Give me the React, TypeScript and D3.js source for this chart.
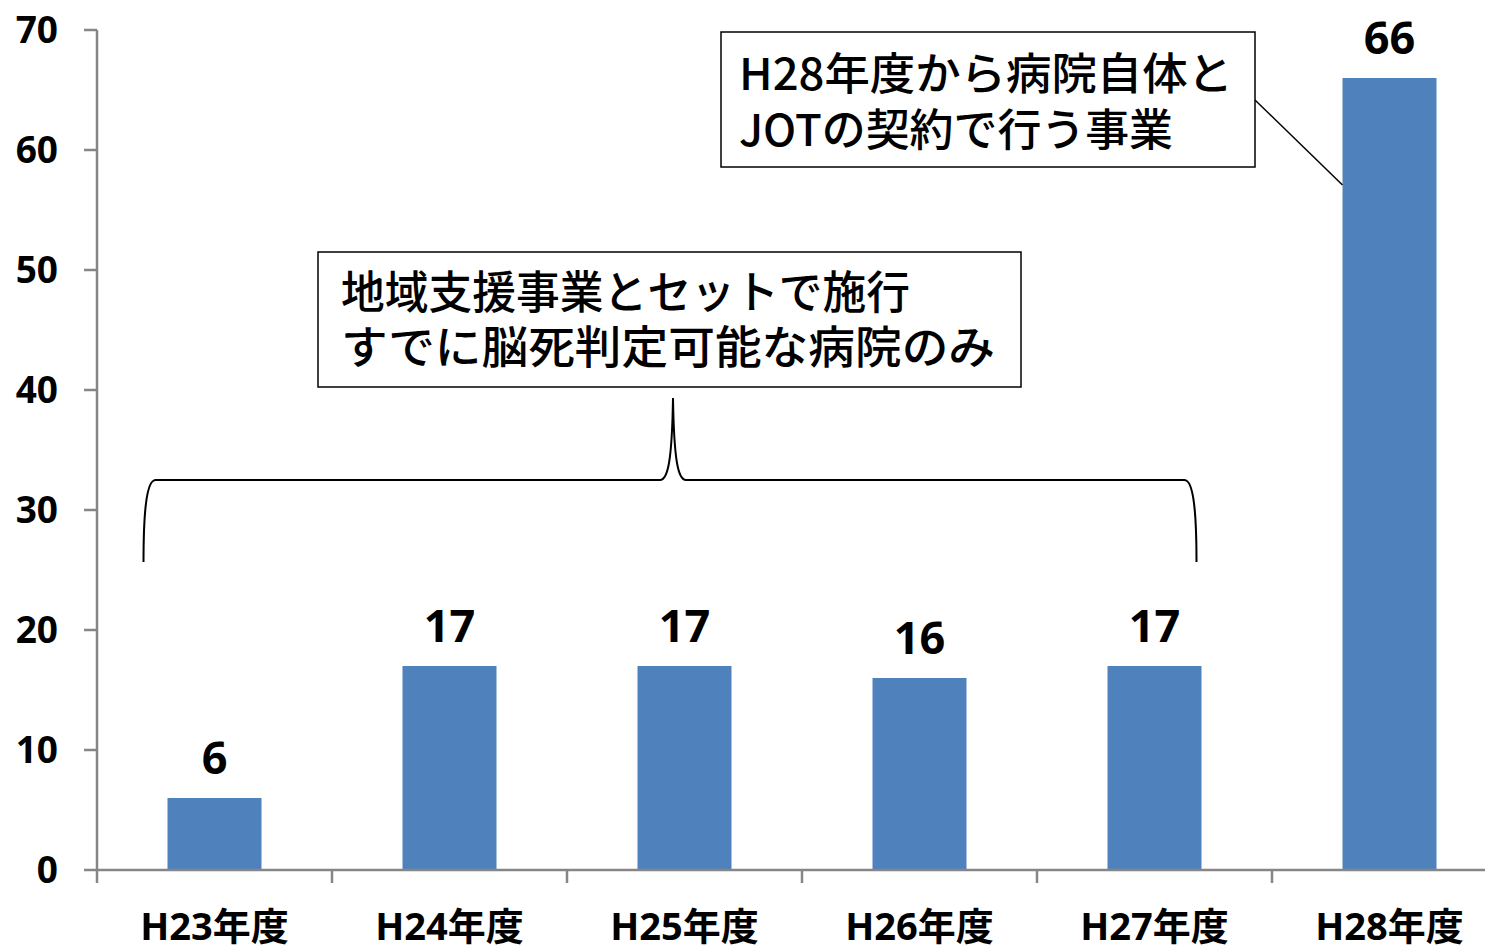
import React from 'react';
import * as d3 from 'd3';

const categories = ['H23年度', 'H24年度', 'H25年度', 'H26年度', 'H27年度', 'H28年度'];
const values = [6, 17, 17, 16, 17, 66];
const yTicks = [0, 10, 20, 30, 40, 50, 60, 70];
const noteA = ['H28年度から病院自体と', 'JOTの契約で行う事業'];
const noteAWidths = [494, 434];
const noteB = ['地域支援事業とセットで施行', 'すでに脳死判定可能な病院のみ'];
const noteBWidths = [569, 654];

const W = 1485;
const H = 946;
const left = 97;
const top = 30;
const bottom = 870;
const axisColor = '#868686';
const barColor = '#4F81BD';
const font = '"Open Sans", "Noto Sans CJK JP", sans-serif';
const jpFont = '"Noto Sans CJK JP", sans-serif';

export default function App() {
  const x = d3.scaleBand<string>()
    .domain(categories)
    .range([left, left + categories.length * 235])
    .paddingInner(0.6)
    .paddingOuter(0.3);

  const y = d3.scaleLinear().domain([0, 70]).range([bottom, top]);
  const step = x.step();

  // bracket over H23-H27
  const bl = (x('H23年度') as number) - 24;
  const br = (x('H27年度') as number) + x.bandwidth() - 5;
  const bm = 673;
  const brace = `M${bl},562 C${bl},520 ${bl + 2},480 ${bl + 12},480 L${bm - 13},480 C${bm - 5},480 ${bm - 1},460 ${bm},398 C${bm + 1},460 ${bm + 5},480 ${bm + 13},480 L${br - 12},480 C${br - 2},480 ${br},520 ${br},562`;

  const h28 = x('H28年度') as number;

  return (
    <svg width={W} height={H} style={{ position: 'absolute', left: 0, top: 0, background: '#fff' }}>
      {/* bars */}
      {categories.map((c, i) => (
        <rect key={c} x={x(c)} y={y(values[i])} width={x.bandwidth()} height={bottom - y(values[i])} fill={barColor} />
      ))}

      {/* y axis */}
      <line x1={left} x2={left} y1={top} y2={bottom} stroke={axisColor} strokeWidth={2.5} />
      {yTicks.map(t => (
        <g key={t}>
          <line x1={left - 13} x2={left} y1={y(t)} y2={y(t)} stroke={axisColor} strokeWidth={2.5} />
          <text x={58} y={y(t)} dy="0.36em" textAnchor="end" fontFamily={font} fontWeight="bold" fontSize={37} fill="#000">{t}</text>
        </g>
      ))}

      {/* x axis */}
      <line x1={left} x2={W} y1={bottom} y2={bottom} stroke={axisColor} strokeWidth={2.5} />
      {categories.map((c, i) => (
        <g key={c}>
          <line x1={left + i * step} x2={left + i * step} y1={bottom} y2={bottom + 13} stroke={axisColor} strokeWidth={2.5} />
          <text x={(x(c) as number) + x.bandwidth() / 2} y={940} textAnchor="middle" fontFamily={font} fontWeight="bold" fontSize={38} fill="#000">{c}</text>
        </g>
      ))}

      {/* value labels */}
      {categories.map((c, i) => (
        <text key={c} x={(x(c) as number) + x.bandwidth() / 2} y={y(values[i]) - 24} textAnchor="middle" fontFamily={font} fontWeight="bold" fontSize={45} fill="#000">{values[i]}</text>
      ))}

      {/* note for H28 */}
      <line x1={1255} y1={100} x2={h28} y2={185} stroke="#000" strokeWidth={1.5} />
      <rect x={721} y={32} width={534} height={135} fill="#fff" stroke="#000" strokeWidth={1.5} />
      {noteA.map((t, i) => (
        <text key={t} x={739} y={90 + i * 56} fontFamily={jpFont} fontWeight={500} fontSize={44} fill="#000"
          textLength={noteAWidths[i]} lengthAdjust="spacingAndGlyphs">{t}</text>
      ))}

      {/* note for H23-H27 */}
      <rect x={318} y={252} width={703} height={135} fill="#fff" stroke="#000" strokeWidth={1.5} />
      {noteB.map((t, i) => (
        <text key={t} x={341} y={309 + i * 55} fontFamily={jpFont} fontWeight={500} fontSize={45} fill="#000"
          textLength={noteBWidths[i]} lengthAdjust="spacingAndGlyphs">{t}</text>
      ))}
      <path d={brace} fill="none" stroke="#000" strokeWidth={2} />
    </svg>
  );
}
